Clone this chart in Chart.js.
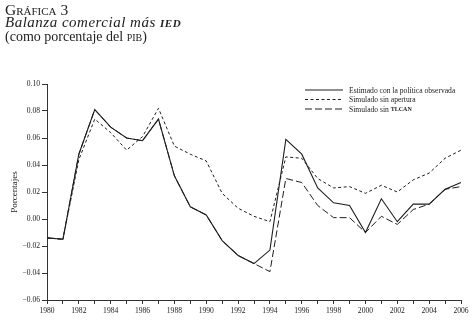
<!DOCTYPE html>
<html>
<head>
<meta charset="utf-8">
<script src="https://cdn.jsdelivr.net/npm/chart.js@4.4.1/dist/chart.umd.min.js"></script>
<style>
  html, body { margin: 0; padding: 0; background: #fff; }
  #wrap { position: relative; width: 474px; height: 322px; }
  #chart { position: absolute; left: 0; top: 0; }
  #titulo {
    position: absolute; left: 5px; top: 3px;
    font-family: "Liberation Serif", serif; color: #222;
    font-size: 14px; line-height: 13px;
  }
  #titulo .l1 { font-variant: small-caps; font-size: 15.5px; }
  #titulo .l2 { font-style: italic; font-size: 15px; letter-spacing: 0.5px; }
  #titulo .l3 { margin-top: 1px; }
  .sc { font-variant-caps: all-small-caps; font-weight: bold; }
</style>
</head>
<body>
<div id="wrap">
  <canvas id="chart" width="474" height="322"></canvas>
  <div id="titulo">
    <div class="l1">Gráfica 3</div>
    <div class="l2">Balanza comercial más <span class="sc">IED</span></div>
    <div class="l3">(como porcentaje del <span style="font-variant-caps:all-small-caps">PIB</span>)</div>
  </div>
</div>
<script>
/* ============================================================
   DATA
   ============================================================ */
const years = ["1980", "1981", "1982", "1983", "1984", "1985", "1986", "1987", "1988",
    "1989", "1990", "1991", "1992", "1993", "1994", "1995", "1996", "1997", "1998",
    "1999", "2000", "2001", "2002", "2003", "2004", "2005", "2006"];

const estimado = [-0.014, -0.015, 0.048, 0.081, 0.068, 0.060, 0.058, 0.074, 0.032,
    0.009, 0.003, -0.016, -0.027, -0.033, -0.023, 0.059, 0.048, 0.023, 0.012,
    0.010, -0.010, 0.015, -0.002, 0.011, 0.011, 0.022, 0.027];

const sinApertura = [-0.014, -0.015, 0.044, 0.074, 0.064, 0.051, 0.061, 0.082, 0.054,
    0.048, 0.043, 0.019, 0.008, 0.002, -0.002, 0.046, 0.045, 0.030, 0.023,
    0.024, 0.019, 0.025, 0.020, 0.029, 0.034, 0.045, 0.051];

const sinTlcan = [-0.014, -0.015, 0.048, 0.081, 0.068, 0.060, 0.058, 0.074, 0.032,
    0.009, 0.003, -0.016, -0.027, -0.033, -0.039, 0.030, 0.027, 0.010, 0.001,
    0.001, -0.010, 0.002, -0.004, 0.007, 0.011, 0.022, 0.024];

const seriesLabels = ["Estimado con la política observada", "Simulado sin apertura", "Simulado sin TLCAN"];
const yMin = -0.06, yMax = 0.10, yStep = 0.02;

/* ============================================================
   LEGEND (drawn as lines + text, top right)
   ============================================================ */
const legendPlugin = {
    id: "lineLegend",
    afterDraw(chart) {
        const ctx = chart.ctx;
        const x0 = 305, len = 38, textX = 349;
        const rows = [90, 99.5, 109];
        chart.data.datasets.forEach((ds, i) => {
            const y = rows[i];
            ctx.save();
            ctx.strokeStyle = ds.borderColor;
            ctx.lineWidth = 1;
            ctx.setLineDash(ds.borderDash || []);
            ctx.beginPath();
            ctx.moveTo(x0, y);
            ctx.lineTo(x0 + len, y);
            ctx.stroke();
            ctx.restore();

            ctx.save();
            ctx.fillStyle = "#222";
            ctx.textBaseline = "middle";
            let x = textX;
            // words in capitals get a small-caps look
            ds.label.split(/(\s+)/).forEach(part => {
                const caps = /^[A-Z]{2,}$/.test(part);
                ctx.font = caps ? "bold 6px 'Liberation Serif'" : "7.6px 'Liberation Serif'";
                ctx.fillText(part, x, y + 0.5);
                x += ctx.measureText(part).width;
            });
            ctx.restore();
        });
    }
};

/* ============================================================
   CHART
   ============================================================ */
const lineColor = "#1e1e1e";
const tickFont = { family: "Liberation Serif", size: 7.6 };

new Chart(document.getElementById("chart"), {
    type: "line",
    data: {
        labels: years,
        datasets: [
            { label: seriesLabels[0], data: estimado, borderColor: lineColor, borderWidth: 1.1, pointRadius: 0, tension: 0 },
            { label: seriesLabels[1], data: sinApertura, borderColor: lineColor, borderWidth: 1, borderDash: [3, 2.5], pointRadius: 0, tension: 0 },
            { label: seriesLabels[2], data: sinTlcan, borderColor: lineColor, borderWidth: 1, borderDash: [7, 3], pointRadius: 0, tension: 0 }
        ]
    },
    options: {
        responsive: false,
        animation: false,
        layout: { padding: { top: 84, right: 13, left: 0, bottom: 0 } },
        plugins: {
            legend: { display: false },
            tooltip: { enabled: false }
        },
        scales: {
            x: {
                type: "category",
                offset: false,
                afterFit: s => { s.height = 22; },
                grid: { drawOnChartArea: false, drawTicks: true, tickLength: 4, color: "#333" },
                border: { display: true, color: "#333", width: 1 },
                ticks: {
                    autoSkip: false, maxRotation: 0, padding: 2,
                    color: "#222", font: tickFont,
                    callback: (v, i) => (i % 2 === 0 ? years[i] : "")
                }
            },
            y: {
                min: yMin, max: yMax,
                afterFit: s => { s.width = 47; },
                grid: { drawOnChartArea: false, drawTicks: true, tickLength: 5, color: "#333" },
                border: { display: true, color: "#333", width: 1 },
                ticks: {
                    stepSize: yStep, padding: 2, color: "#222", font: tickFont,
                    callback: v => (v < 0 ? "\u2212" : "") + Math.abs(v).toFixed(2)
                },
                title: {
                    display: true, text: "Porcentajes", color: "#222",
                    font: { family: "Liberation Serif", size: 9 },
                    padding: { top: 9, bottom: 0 }
                }
            }
        }
    },
    plugins: [legendPlugin]
});
</script>
</body>
</html>
